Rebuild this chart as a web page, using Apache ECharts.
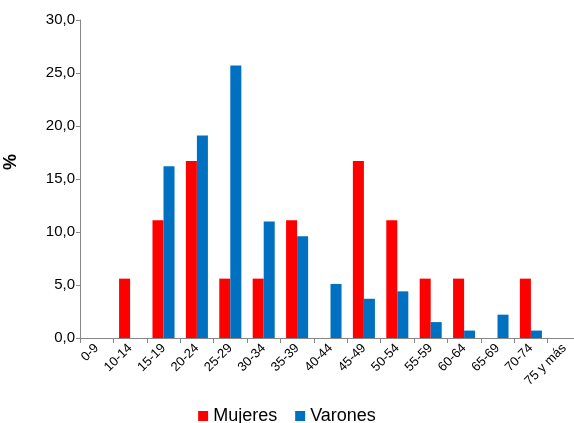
<!DOCTYPE html>
<html><head><meta charset="utf-8">
<script src="https://cdn.jsdelivr.net/npm/echarts@6/dist/echarts.min.js"></script>
<style>html,body{margin:0;padding:0;background:#fff}#c{width:574px;height:423px}</style>
</head><body><div id="c"></div>
<script>
const categories = ['0-9','10-14','15-19','20-24','25-29','30-34','35-39','40-44','45-49','50-54','55-59','60-64','65-69','70-74','75 y más'];
const mujeres = [0,5.6,11.1,16.7,5.6,5.6,11.1,0,16.7,11.1,5.6,5.6,0,5.6,0];
const varones = [0,0,16.2,19.1,25.7,11.0,9.6,5.1,3.7,4.4,1.5,0.7,2.2,0.7,0];
const yTicks = {min:0, max:30, interval:5};

const chart = echarts.init(document.getElementById('c'), null, {renderer:'canvas'});
const axisColor = '#868686';
const font = 'Liberation Sans, Arial, sans-serif';
chart.setOption({
  animation:false,
  textStyle:{fontFamily:font},
  grid:{left:80, right:-7, top:20, bottom:85, containLabel:false, outerBoundsMode:'none'},
  legend:{
    bottom:-7, left:'center', itemWidth:10, itemHeight:10, itemGap:18,
    icon:'rect',
    textStyle:{fontSize:18, color:'#000', fontFamily:font},
    data:['Mujeres','Varones']
  },
  xAxis:{
    type:'category', data:categories,
    axisLine:{lineStyle:{color:axisColor}},
    axisTick:{show:true, alignWithLabel:false, length:5, lineStyle:{color:axisColor}},
    axisLabel:{rotate:45, interval:0, fontSize:13, color:'#000', margin:8, fontFamily:font}
  },
  yAxis:{
    type:'value', min:yTicks.min, max:yTicks.max, interval:yTicks.interval,
    name:'%', nameLocation:'middle', nameGap:60, nameRotate:90,
    nameTextStyle:{fontSize:18, fontWeight:'bold', color:'#000', fontFamily:font, padding:[0,0,0,34]},
    splitLine:{show:false},
    axisLine:{show:true, lineStyle:{color:axisColor}},
    axisTick:{show:true, length:4, lineStyle:{color:axisColor}},
    axisLabel:{fontSize:15, color:'#000', margin:5, fontFamily:font,
      formatter:v=>v.toFixed(1).replace('.',',')}
  },
  series:[
    {name:'Mujeres', type:'bar', data:mujeres, itemStyle:{color:'#FF0000'}, barGap:'0%', barCategoryGap:'34%'},
    {name:'Varones', type:'bar', data:varones, itemStyle:{color:'#0070C0'}, barGap:'0%', barCategoryGap:'34%'}
  ]
});
</script></body></html>
